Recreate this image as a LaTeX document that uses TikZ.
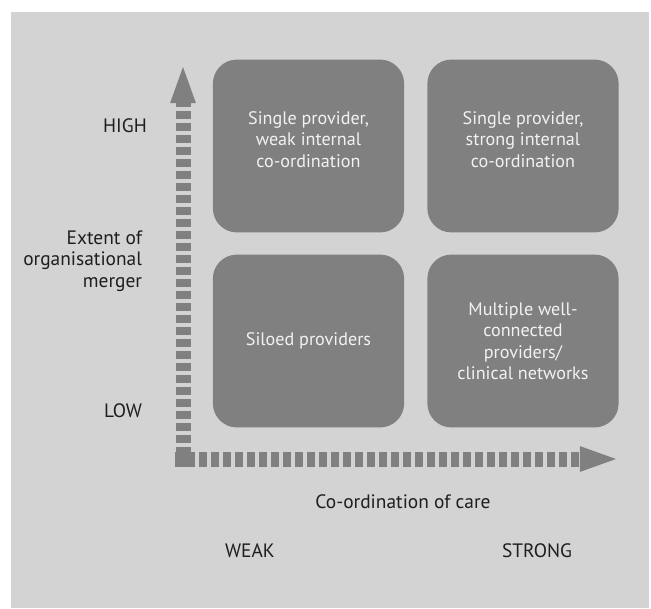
\documentclass[tikz,border=0pt]{standalone}
\usepackage{fontspec}
\setmainfont{PT Sans}
\usetikzlibrary{arrows.meta,positioning,calc}
\definecolor{bggray}{HTML}{D3D3D3}
\definecolor{boxgray}{HTML}{808080}
\definecolor{txtdark}{HTML}{1E1E1E}

\begin{document}
\begin{tikzpicture}[x=0.025cm,y=-0.025cm]
	\tikzstyle{quad} = [rectangle, rounded corners=0.6cm, minimum width=4.78cm, minimum height=4.32cm, fill=boxgray, text=white!95!black, align=center, font=\fontsize{12.9}{15.2}\selectfont]
	\tikzstyle{lab} = [text=txtdark, font=\fontsize{13.8}{15.2}\selectfont]
	\tikzstyle{axis} = [draw=boxgray, line width=0.375cm, dash pattern=on 0.2cm off 0.1cm, -{Triangle[length=1cm,width=0.55cm]}]
  \useasboundingbox (0,0) rectangle (651,608);
  \fill[bggray] (11,12) rectangle (649,608);

  % the four quadrants
  \node(tl)[quad] at (308.5,146) {Single provider,\\weak internal\\co-ordination\\[-0.2cm]\mbox{}};
  \node(tr)[quad] at (523,146) {Single provider,\\strong internal\\co-ordination\\[-0.2cm]\mbox{}};
  \node(bl)[quad] at (308.5,341) {Siloed providers};
  \node(br)[quad] at (523,341) {Multiple well-\\connected\\providers/\\clinical networks};

  % axes
  \coordinate(origin) at (183,459);
  \coordinate(ytip) at (183,63);
  \coordinate(xtip) at (620,459);
  \draw [axis] ($(origin)+(0,8)$) -- (ytip);
  \draw [axis] ($(origin)+(-8,0)$) -- (xtip);
  \fill [boxgray] ($(origin)+(-8,-7)$) rectangle ($(origin)+(8,8)$);

  % labels
  \node(high)[lab] at (125,126) {HIGH};
  \node(extent)[lab, align=right, anchor=east] at (147,261) {Extent of\\organisational\\merger};
  \node(low)[lab] at (123,411) {LOW};
  \node(care)[lab] at (403,502) {Co-ordination of care};
  \node(weak)[lab] at (250,551) {WEAK};
  \node(strong)[lab] at (537,551) {STRONG};
\end{tikzpicture}
\end{document}
